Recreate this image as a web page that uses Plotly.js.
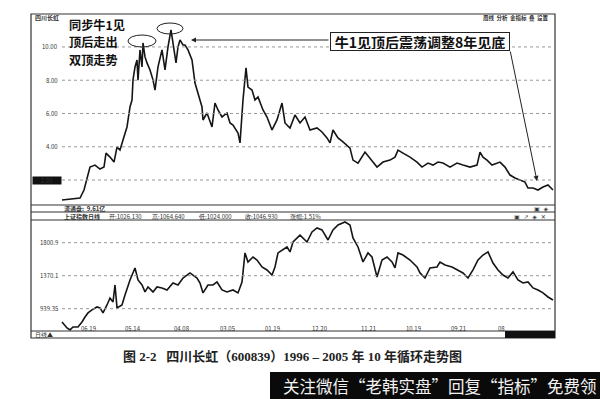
<!DOCTYPE html>
<html><head><meta charset="utf-8">
<script src="https://cdn.plot.ly/plotly-3.0.1.min.js"></script>
<style>html,body{margin:0;padding:0;background:#fff}#c{width:600px;height:399px}</style>
</head><body><div id="c"></div>
<script>
// ---- data ----
const priceDays = [155,195,245,265,285,295,320,345,365,375,395,415,430,445,460,480,495,505,510,520,530,535,545,555,560,570,580,595,610,620,635,655,670,685,700,710,725,735,745,760,770,785,805,820,835,855,860,880,905,920,935,955,980,995,1010,1035,1045,1060,1075,1085,1105,1120,1135,1160,1180,1205,1230,1255,1270,1295,1320,1345,1370,1395,1430,1455,1480,1495,1510,1535,1560,1595,1610,1635,1670,1695,1730,1760,1795,1820,1835,1860,1895,1930,1955,1985,2010,2035,2060,2095,2130,2160,2195,2230,2245,2260,2280,2305,2330,2345,2370,2395,2420,2445,2470,2485,2510,2535,2560,2585,2610];
const priceVals = [0.80,0.86,0.92,1.40,2.42,2.78,2.90,2.66,2.78,3.62,3.38,3.08,3.98,3.80,4.41,5.19,6.39,6.81,8.02,8.80,9.22,8.00,9.82,8.80,10.24,9.40,9.04,8.62,8.02,7.41,8.80,9.82,8.62,10.00,11.02,10.24,9.04,10.00,10.42,10.12,10.12,9.82,9.22,7.83,7.23,6.39,5.61,6.03,5.19,6.63,6.21,5.79,6.03,5.43,5.31,4.83,4.23,6.81,8.74,7.59,7.41,6.81,6.99,6.21,5.79,5.01,5.61,6.63,5.43,5.13,5.91,5.43,5.79,5.01,5.13,4.89,4.53,4.23,5.01,4.53,4.29,3.92,3.20,3.02,3.68,3.32,2.78,3.08,3.20,3.38,3.80,3.62,3.38,3.08,2.78,3.02,2.90,3.08,3.02,2.78,3.02,2.90,2.78,2.90,3.68,3.38,3.20,2.90,3.02,3.08,2.78,2.30,2.12,2.00,1.88,1.52,1.52,1.40,1.58,1.70,1.40];
const indexDays = [155,180,195,210,235,255,270,285,305,330,345,360,380,395,410,420,430,455,470,495,520,535,555,570,585,610,630,655,680,710,735,760,795,830,845,860,885,910,930,955,980,1010,1035,1055,1070,1085,1110,1130,1155,1180,1205,1220,1235,1260,1280,1295,1310,1345,1380,1405,1430,1455,1485,1510,1535,1570,1595,1610,1635,1660,1685,1705,1730,1755,1780,1805,1820,1835,1860,1895,1930,1945,1970,1995,2030,2045,2070,2105,2135,2160,2185,2210,2235,2260,2285,2310,2335,2360,2385,2410,2435,2460,2485,2510,2535,2560,2585,2610];
const indexVals = [766,688,662,701,701,766,831,884,923,962,949,884,988,1079,1027,1249,949,988,1118,1314,1471,1314,1249,1158,1223,1158,1223,1210,1184,1275,1249,1340,1406,1340,1275,1145,1249,1249,1288,1184,1158,1184,1145,1288,1667,1549,1614,1575,1484,1445,1379,1484,1667,1706,1745,1680,1810,1900,1810,1941,1993,1967,1836,1967,2032,2071,2032,1862,1745,1549,1667,1614,1353,1575,1614,1549,1471,1667,1640,1575,1484,1406,1340,1471,1484,1549,1510,1484,1445,1406,1340,1445,1575,1640,1680,1536,1445,1379,1340,1419,1314,1275,1288,1210,1184,1145,1092,1053];
const priceTicks = [10,8,6,4,2];
const priceTickText = ['10.00','8.00','6.00','4.00','2.00'];
const indexTicks = [1800.9,1370.1,939.35];
const indexTickText = ['1800.9','1370.1','939.35'];
const dateTicks = [285,510,755,980,1205,1445,1685,1910,2135,2350];
const dateTickText = ['06.19','05.14','04.08','03.05','01.19','12.20','11.21','10.19','09.21','08'];
const noteLines = ['同步牛1见','顶后走出','双顶走势'];

// ---- layout helpers (pixel -> paper) ----
const L=31, R=555, T=14, B=331;
const W=R-L, H=B-T;
const px = x => (x-L)/W;
const py = y => (B-y)/H;
const CJK = '"Noto Sans CJK SC", "DejaVu Sans", sans-serif';
const small = {family: CJK, size: 6, color: '#333'};

const traces = [
  {x: priceDays, y: priceVals, xaxis:'x', yaxis:'y', mode:'lines', line:{color:'#151515', width:1.6}, hoverinfo:'skip'},
  {x: indexDays, y: indexVals, xaxis:'x', yaxis:'y2', mode:'lines', line:{color:'#151515', width:1.6}, hoverinfo:'skip'}
];

const shapes = [];
const ln = (x0,y0,x1,y1,w,c) => shapes.push({type:'line', xref:'paper', yref:'paper', x0:px(x0), y0:py(y0), x1:px(x1), y1:py(y1), line:{color:c||'#333', width:w||1}});
// frame
shapes.push({type:'rect', xref:'paper', yref:'paper', x0:0, x1:1, y0:py(338), y1:1, line:{color:'#333', width:1.2}});
ln(L,205,R,205,1.2); ln(L,212,R,212,1); ln(L,220,R,220,1.2); ln(L,331,R,331,1);
shapes.push({type:'rect', xref:'paper', yref:'paper', x0:px(505), x1:1, y0:py(338), y1:0, fillcolor:'#111', line:{width:0}});
// gridlines
priceTicks.forEach(v => shapes.push({type:'line', xref:'paper', yref:'y', x0:px(62), x1:px(553), y0:v, y1:v, line:{color:'#999', width:1, dash:'dot'}}));
indexTicks.forEach(v => shapes.push({type:'line', xref:'paper', yref:'y2', x0:px(62), x1:px(553), y0:v, y1:v, line:{color:'#999', width:1, dash:'dot'}}));
// ellipses around the double top
shapes.push({type:'circle', xref:'paper', yref:'paper', x0:px(128), x1:px(156), y0:py(47), y1:py(35), line:{color:'#222', width:1}});
shapes.push({type:'circle', xref:'paper', yref:'paper', x0:px(157), x1:px(183), y0:py(34), y1:py(23), line:{color:'#222', width:1}});

const ann = [];
priceTicks.forEach((v,i) => {
  if (v === 2) {
    ann.push({xref:'paper', yref:'y', x:px(46.5), y:v, text:priceTickText[i], showarrow:false, xanchor:'center', bgcolor:'#111', width:28, height:7, borderpad:0, font:{family:CJK, size:6, color:'#333'}});
  } else {
    ann.push({xref:'paper', yref:'y', x:px(60), y:v, text:priceTickText[i], showarrow:false, xanchor:'right', font:small});
  }
});
indexTicks.forEach((v,i) => ann.push({xref:'paper', yref:'y2', x:px(60), y:v, text:indexTickText[i], showarrow:false, xanchor:'right', font:small}));
dateTicks.forEach((d,i) => ann.push({xref:'x', yref:'paper', x:d, y:py(334.5), text:dateTickText[i], showarrow:false, xanchor:'center', font:small}));
const txt = (x,y,t,f,anchor) => ann.push({xref:'paper', yref:'paper', x:px(x), y:py(y), text:t, showarrow:false, xanchor:anchor||'left', yanchor:'middle', font:f});
txt(33,334.5,'日线▲',small);
txt(33,17.5,'<b>四川长虹</b>',small);
txt(550,17.5,'<b>周线  分析  金指标  叠  设置</b>',{family:CJK,size:5.5,color:'#333'},'right');
txt(62,208.5,'<b>流通盘:  9.61亿</b>',small);
txt(62,216,'<b>上证指数日线</b>',small);
txt(107,216,'开:1026.130',small);
txt(150,216,'高:1064.640',small);
txt(197,216,'低:1024.000',small);
txt(243,216,'收:1046.930',small);
txt(288,216,'涨幅:1.51%',small);
txt(532,208.5,'▣  ◈',{family:'DejaVu Sans',size:6,color:'#333'});
txt(512,216,'▣  ↗  ◈  ✕',{family:'DejaVu Sans',size:6,color:'#333'});

// left note (three lines)
const noteFont = {family:CJK, size:12.2, color:'#111', weight:'bold'};
noteLines.forEach((t,i) => txt(67, 24.5 + i*17.6, t, noteFont));
ann.push({xref:'paper', yref:'paper', x:px(420), y:py(41), text:'牛1见顶后震荡调整8年见底', showarrow:false, xanchor:'center', yanchor:'middle', width:176, height:15, bordercolor:'#222', borderwidth:1, borderpad:1, bgcolor:'#fff', font:{family:CJK, size:14, color:'#111', weight:'bold'}});
// arrows
ann.push({xref:'paper', yref:'paper', x:px(191), y:py(40), ax:139, ay:0, text:'', showarrow:true, arrowhead:2, arrowsize:1, arrowwidth:1, arrowcolor:'#222'});
ann.push({xref:'paper', yref:'paper', x:px(537), y:py(181), ax:-27, ay:-131, text:'', showarrow:true, arrowhead:2, arrowsize:1, arrowwidth:1, arrowcolor:'#222'});
// caption
ann.push({xref:'paper', yref:'paper', x:px(292), y:py(356.5), text:'<b>图 2-2   四川长虹（600839）1996 – 2005 年 10 年循环走势图</b>', showarrow:false, xanchor:'center', yanchor:'middle', font:{family:'"Liberation Serif", "Noto Sans CJK SC", serif', size:13, color:'#222'}});
// watermark banner
shapes.push({type:'rect', xref:'paper', yref:'paper', x0:px(270), x1:px(600), y0:py(399), y1:py(372), fillcolor:'#0a0a0a', line:{width:0}});
ann.push({xref:'paper', yref:'paper', x:px(281), y:py(385.5), text:'关注微信“老韩实盘”回复“指标”免费领', showarrow:false, xanchor:'left', yanchor:'middle', font:{family:CJK, size:16.5, color:'#f2f2f2'}});

const hidden = {showgrid:false, zeroline:false, showline:false, showticklabels:false, ticks:''};
const layout = {
  width:600, height:399,
  margin:{l:L, r:600-R, t:T, b:399-B, pad:0},
  paper_bgcolor:'#fff', plot_bgcolor:'#fff',
  showlegend:false,
  xaxis: Object.assign({range:[0, W*5], anchor:'y2'}, hidden),
  yaxis: Object.assign({range:[0.5, 11.98], domain:[py(205),1]}, hidden),
  yaxis2: Object.assign({range:[648, 2097], domain:[0, py(220)]}, hidden),
  shapes: shapes,
  annotations: ann
};
Plotly.newPlot('c', traces, layout, {staticPlot:true, displayModeBar:false});
</script></body></html>
